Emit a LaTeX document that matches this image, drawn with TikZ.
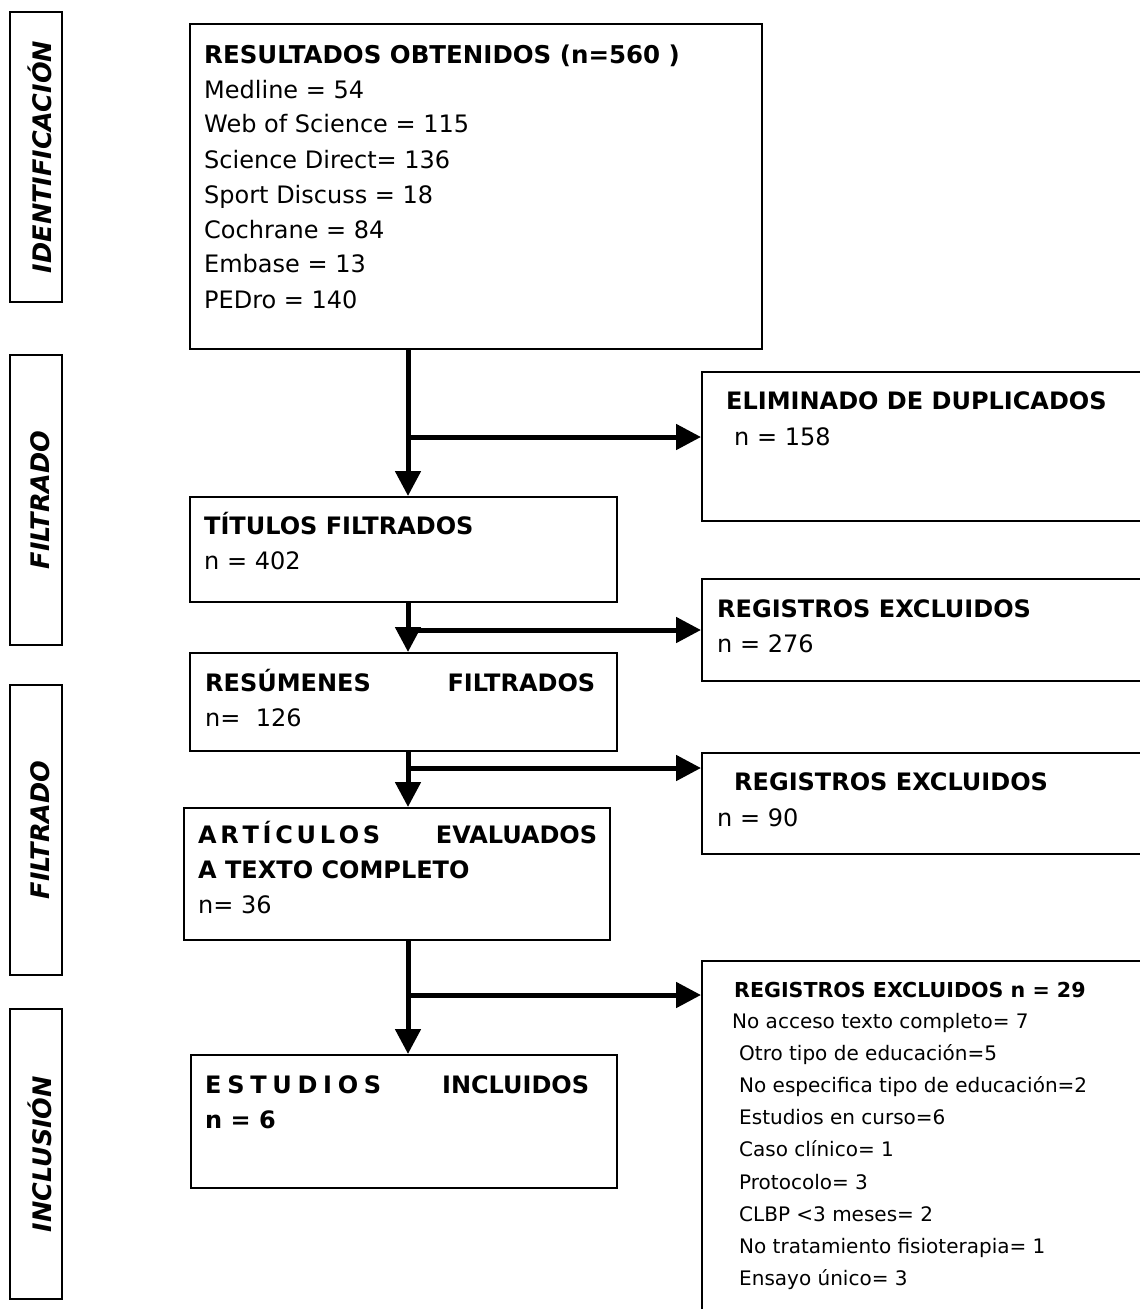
\documentclass[tikz,border=0pt]{standalone}
\usepackage{fontspec}
\setmainfont{DejaVu Sans}
\usetikzlibrary{arrows.meta}
\tikzset{
  box/.style={draw, line width=2pt, rectangle, inner sep=0pt},
  sidebox/.style={draw, line width=2pt, rectangle, inner sep=0pt, minimum width=52pt, minimum height=290pt},
  sidetxt/.style={rotate=90, inner sep=0pt, font=\fontsize{25.5}{28}\selectfont\bfseries\itshape},
  txt/.style={anchor=base west, inner sep=0pt, font=\fontsize{24}{35}\selectfont},
  small/.style={anchor=base west, inner sep=0pt, font=\fontsize{20}{32.25}\selectfont},
  arr/.style={line width=5pt, -{Triangle[length=25pt,width=25pt]}}
}
\begin{document}
\begin{tikzpicture}[x=1pt,y=-1pt]
\useasboundingbox (0,0) rectangle (1140,1309);
% side labels
\node[sidebox] (sid1) at (36,157) {};
\node[sidetxt] (lab1) at (40,157) {IDENTIFICACIÓN};
\node[sidebox] (sid2) at (36,500) {};
\node[sidetxt] (lab2) at (40,500) {FILTRADO};
\node[sidebox] (sid3) at (36,830) {};
\node[sidetxt] (lab3) at (40,830) {FILTRADO};
\node[sidebox] (sid4) at (36,1154) {};
\node[sidetxt] (lab4) at (40,1154) {INCLUSIÓN};
% main boxes
\node[box, minimum width=572pt, minimum height=325pt] (b1) at (476,186.5) {};
\node[box, minimum width=427pt, minimum height=105pt] (tit) at (403.5,549.5) {};
\node[box, minimum width=427pt, minimum height=98pt] (res) at (403.5,702) {};
\node[box, minimum width=426pt, minimum height=132pt] (art) at (397,874) {};
\node[box, minimum width=426pt, minimum height=133pt] (est) at (404,1121.5) {};
% right boxes
\node[box, minimum width=468pt, minimum height=149pt] (eli) at (936,446.5) {};
\node[box, minimum width=468pt, minimum height=102pt] (r276) at (936,630) {};
\node[box, minimum width=468pt, minimum height=101pt] (r90) at (936,803.5) {};
\node[box, minimum width=468pt, minimum height=379pt] (r29) at (936,1150.5) {};
% texts
\node[txt] (t1) at (204,63) {\begin{tabular}[t]{@{}l@{}}\textbf{\fontsize{24.5}{35}\selectfont RESULTADOS OBTENIDOS (n=560 )}\\ Medline = 54\\ Web of Science = 115\\ Science Direct= 136\\ Sport Discuss = 18\\ Cochrane = 84\\ Embase = 13\\ PEDro = 140\end{tabular}};
\node[txt] (t2) at (204,534) {\begin{tabular}[t]{@{}l@{}}\textbf{TÍTULOS FILTRADOS}\\ n = 402\end{tabular}};
\node[txt] (t3) at (205,691) {\begin{tabular}[t]{@{}l@{}}\textbf{\makebox[390pt][s]{RESÚMENES\hfill FILTRADOS}}\\ n=\ \ 126\end{tabular}};
\node[txt] (t4) at (198,843) {\begin{tabular}[t]{@{}l@{}}\textbf{\makebox[399pt][s]{\makebox[182pt][s]{A\hfill R\hfill T\hfill Í\hfill C\hfill U\hfill L\hfill O\hfill S}\hfill EVALUADOS}}\\ \textbf{A TEXTO COMPLETO}\\ n= 36\end{tabular}};
\node[txt] (t5) at (205,1093) {\begin{tabular}[t]{@{}l@{}}\textbf{\makebox[384pt][s]{\makebox[176pt][s]{E\hfill S\hfill T\hfill U\hfill D\hfill I\hfill O\hfill S}\hfill INCLUIDOS}}\\ \textbf{n = 6}\end{tabular}};
\node[txt] (t6) at (726,409) {\textbf{ELIMINADO DE DUPLICADOS}};
\node[txt] (t6b) at (734,445) {n = 158};
\node[txt] (t7) at (717,617) {\begin{tabular}[t]{@{}l@{}}\textbf{REGISTROS EXCLUIDOS}\\ n = 276\end{tabular}};
\node[txt] (t8) at (734,790) {\textbf{REGISTROS EXCLUIDOS}};
\node[txt] (t8b) at (717,826) {n = 90};
\node[small] (t9) at (734,997) {\textbf{\fontsize{20.6}{32.25}\selectfont REGISTROS EXCLUIDOS n = 29}};
\node[small] (t9b) at (732,1028) {No acceso texto completo= 7};
\node[small] (t9c) at (739,1060) {\begin{tabular}[t]{@{}l@{}}Otro tipo de educación=5\\ No especifica tipo de educación=2\\ Estudios en curso=6\\ Caso clínico= 1\\ Protocolo= 3\\ CLBP <3 meses= 2\\ No tratamiento fisioterapia= 1\\ Ensayo único= 3\end{tabular}};
% junctions
\coordinate (j1) at (408,437);
\coordinate (j2) at (408,630);
\coordinate (j3) at (408,768);
\coordinate (j4) at (408,995);
% connectors
\draw[arr] (j1 |- b1.south) -- (j1 |- tit.north);
\draw[arr] (j1) -- (j1 -| eli.west);
\draw[arr] (j2 |- tit.south) -- (j2 |- res.north);
\draw[arr] (j2) -- (j2 -| r276.west);
\draw[arr] (j3 |- res.south) -- (j3 |- art.north);
\draw[arr] (j3) -- (j3 -| r90.west);
\draw[arr] (j4 |- art.south) -- (j4 |- est.north);
\draw[arr] (j4) -- (j4 -| r29.west);
\end{tikzpicture}
\end{document}
